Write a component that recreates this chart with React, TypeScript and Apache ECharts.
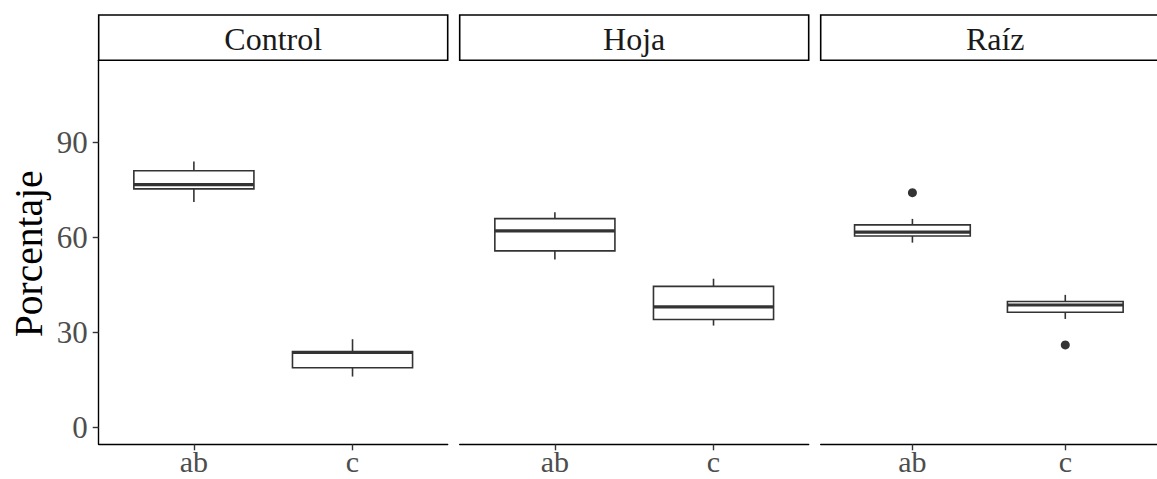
import React, { useEffect, useRef } from "react";
import * as echarts from "echarts";

// ---- data ----
const panels = ["Control", "Hoja", "Raíz"];
const categories = ["ab", "c"];
// [min, Q1, median, Q3, max] for ab and c in each panel
const controlBoxes = [
  [71.1, 75.3, 76.6, 81.0, 83.9],
  [16.0, 18.8, 23.6, 23.9, 27.8],
];
const hojaBoxes = [
  [53.0, 55.7, 62.0, 65.9, 67.9],
  [32.1, 34.0, 38.0, 44.5, 46.9],
];
const raizBoxes = [
  [58.3, 60.4, 61.6, 63.9, 65.8],
  [34.2, 36.3, 38.6, 39.7, 41.8],
];
const boxesByPanel = [controlBoxes, hojaBoxes, raizBoxes];
// outliers: [categoryIndex, value]
const controlOutliers: number[][] = [];
const hojaOutliers: number[][] = [];
const raizOutliers = [
  [0, 74.1],
  [1, 26.0],
];
const outliersByPanel = [controlOutliers, hojaOutliers, raizOutliers];
const yTicks = [0, 30, 60, 90];
const yTitle = "Porcentaje";

// ---- layout / style ----
const FONT = '"Liberation Serif", "Times New Roman", "DejaVu Serif", serif';
const PANEL_LEFTS = [98.7, 459.7, 820.7];
const PANEL_W = 349;
const PANEL_TOP = 60.3;
const PANEL_H = 384;
const STRIP_TOP = 15;
const BOX_W = 0.757;
const LINE = "#333333";

export default function App() {
  const ref = useRef<HTMLDivElement>(null);

  useEffect(() => {
    if (!ref.current) return;
    const chart = echarts.init(ref.current, null, { renderer: "svg" });

    const grid = PANEL_LEFTS.map((l) => ({
      left: l,
      top: PANEL_TOP,
      width: PANEL_W,
      height: PANEL_H,
      containLabel: false,
    }));

    const xAxis = PANEL_LEFTS.map((_, i) => ({
      type: "value",
      gridIndex: i,
      position: "bottom",
      min: 0.4,
      max: 2.6,
      splitLine: { show: false },
      axisLine: { show: true, onZero: false, lineStyle: { color: "#000", width: 1.4 } },
      axisTick: {
        show: true,
        length: 6,
        customValues: [1, 2],
        lineStyle: { color: LINE, width: 1.4 },
      },
      axisLabel: {
        show: true,
        customValues: [1, 2],
        formatter: (v: number) => categories[Math.round(v) - 1] ?? "",
        fontFamily: FONT,
        fontSize: 30,
        lineHeight: 30,
        color: "#4D4D4D",
        margin: 2,
      },
    }));

    const yAxis = PANEL_LEFTS.map((_, i) => ({
      type: "value",
      gridIndex: i,
      position: "left",
      min: -5.4,
      max: 115.9,
      show: i === 0,
      splitLine: { show: false },
      axisLine: { show: true, onZero: false, lineStyle: { color: "#000", width: 1.4 } },
      axisTick: {
        show: true,
        length: 6,
        customValues: yTicks,
        lineStyle: { color: LINE, width: 1.4 },
      },
      axisLabel: {
        show: true,
        customValues: yTicks,
        formatter: (v: number) => String(v),
        fontFamily: FONT,
        fontSize: 31,
        color: "#4D4D4D",
        margin: 11,
      },
    }));

    const series: any[] = [];
    boxesByPanel.forEach((boxes, p) => {
      series.push({
        type: "custom",
        xAxisIndex: p,
        yAxisIndex: p,
        encode: { x: 0, y: [1, 2, 3, 4, 5] },
        data: boxes.map((b, i) => [i + 1, ...b]),
        renderItem: (params: any, api: any) => {
          const x = api.value(0);
          const mn = api.coord([x, api.value(1)]);
          const q1 = api.coord([x, api.value(2)]);
          const md = api.coord([x, api.value(3)]);
          const q3 = api.coord([x, api.value(4)]);
          const mx = api.coord([x, api.value(5)]);
          const half = api.size([BOX_W, 0])[0] / 2;
          const cx = md[0];
          return {
            type: "group",
            children: [
              {
                type: "line",
                shape: { x1: cx, y1: q3[1], x2: cx, y2: mx[1] },
                style: { stroke: LINE, lineWidth: 1.6 },
              },
              {
                type: "line",
                shape: { x1: cx, y1: q1[1], x2: cx, y2: mn[1] },
                style: { stroke: LINE, lineWidth: 1.6 },
              },
              {
                type: "rect",
                shape: { x: cx - half, y: q3[1], width: half * 2, height: q1[1] - q3[1] },
                style: { fill: "#fff", stroke: LINE, lineWidth: 1.6 },
              },
              {
                type: "line",
                shape: { x1: cx - half, y1: md[1], x2: cx + half, y2: md[1] },
                style: { stroke: LINE, lineWidth: 3.2 },
              },
            ],
          };
        },
      });
      series.push({
        type: "scatter",
        xAxisIndex: p,
        yAxisIndex: p,
        symbol: "circle",
        symbolSize: 9,
        itemStyle: { color: LINE, opacity: 1 },
        data: outliersByPanel[p].map((o) => [o[0] + 1, o[1]]),
      });
    });

    const graphic: any[] = [];
    panels.forEach((name, p) => {
      graphic.push({
        type: "rect",
        shape: { x: PANEL_LEFTS[p], y: STRIP_TOP, width: PANEL_W, height: PANEL_TOP - STRIP_TOP },
        style: { fill: "#fff", stroke: "#000", lineWidth: 1.6 },
        z: 10,
      });
      graphic.push({
        type: "text",
        x: PANEL_LEFTS[p] + PANEL_W / 2,
        y: (STRIP_TOP + PANEL_TOP) / 2 + 1,
        style: {
          text: name,
          fontFamily: FONT,
          fontSize: 32,
          fill: "#1A1A1A",
          align: "center",
          verticalAlign: "middle",
        },
        z: 11,
      });
    });
    graphic.push({
      type: "text",
      x: 28.5,
      y: PANEL_TOP + PANEL_H / 2 + 1.5,
      rotation: Math.PI / 2,
      style: {
        text: yTitle,
        fontFamily: FONT,
        fontSize: 39.5,
        fill: "#000",
        align: "center",
        verticalAlign: "middle",
      },
    });

    chart.setOption({
      animation: false,
      backgroundColor: "#fff",
      grid,
      xAxis,
      yAxis,
      series,
      graphic,
    });

    return () => chart.dispose();
  }, []);

  return (
    <div
      ref={ref}
      style={{ position: "absolute", left: 0, top: 0, width: 1157, height: 479 }}
    />
  );
}
